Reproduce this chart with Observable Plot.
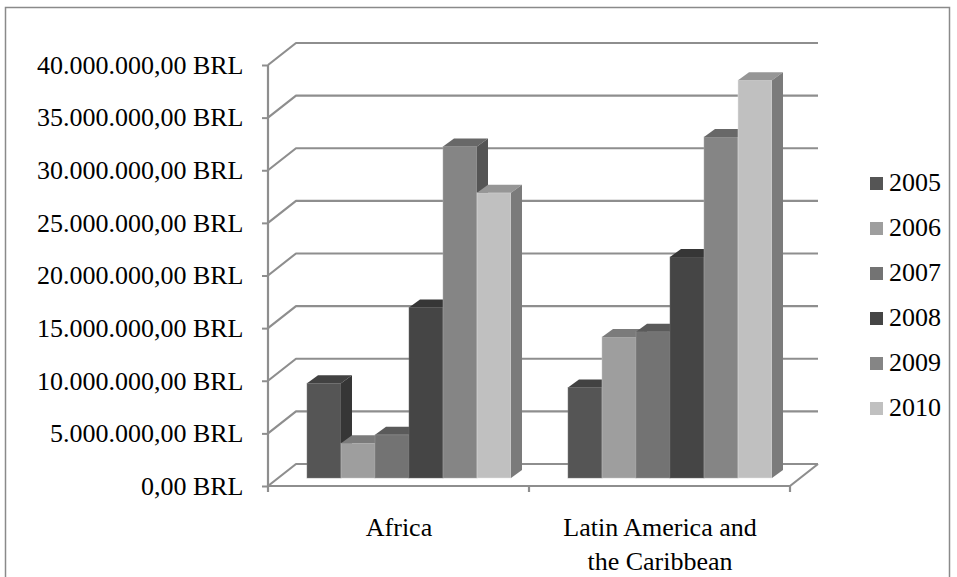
<!DOCTYPE html>
<html><head><meta charset="utf-8">
<script src="https://cdn.jsdelivr.net/npm/d3@7"></script>
<script src="https://cdn.jsdelivr.net/npm/@observablehq/plot@0.6"></script>
<style>
html,body{margin:0;padding:0;background:#fff;}
#wrap{position:relative;width:957px;height:577px;overflow:hidden;font-family:"Liberation Serif","Times New Roman",serif;}
#chart{position:absolute;left:0;top:0;}
.item{position:absolute;left:870px;display:flex;align-items:center;white-space:nowrap;font-size:26px;line-height:26px;height:26px;color:#000;}
.sw{width:13px;height:13px;margin-right:6px;flex:none;}
</style></head><body>
<div id="wrap"><div id="chart"></div><div id="legend"></div></div>
<script>
const regions = ["Africa", "Latin America and the Caribbean"];
const regionLabels = ["Africa", "Latin America and\nthe Caribbean"];
const years = ["2005", "2006", "2007", "2008", "2009", "2010"];
const africaValues = [9.0e6, 3.3e6, 4.1e6, 16.2e6, 31.5e6, 27.1e6];
const latinAmericaValues = [8.6e6, 13.4e6, 13.9e6, 21.0e6, 32.4e6, 37.8e6];
const yTicks = [0, 5e6, 10e6, 15e6, 20e6, 25e6, 30e6, 35e6, 40e6];
const yearColors = ["#555555", "#9e9e9e", "#737373", "#454545", "#858585", "#c0c0c0"];

const seriesByRegion = [africaValues, latinAmericaValues];
const data = [];
regions.forEach((r, i) => years.forEach((yr, j) => data.push({region: r, year: yr, value: seriesByRegion[i][j]})));

const loc = d3.formatLocale({decimal: ",", thousands: ".", grouping: [3], currency: ["", ""]});
const num = loc.format(",.2f");
const fmt = v => num(v) + " BRL";

const GRID = "#8e8e8e";
const chart = Plot.plot({
  width: 957, height: 577,
  marginLeft: 268, marginRight: 167, marginTop: 65, marginBottom: 91,
  style: {fontFamily: '"Liberation Serif", "Times New Roman", serif', fontSize: "26px", color: "#000", background: "transparent", overflow: "visible"},
  fx: {domain: regions, padding: 0, label: null},
  x: {domain: years, paddingInner: 0, paddingOuter: 0.73, axis: null},
  y: {domain: [0, 40e6], axis: null},
  color: {domain: years, range: yearColors},
  marks: [
    Plot.axisY({ticks: yTicks, tickFormat: fmt, tickSize: 6, tickPadding: 19, fontSize: 26, stroke: GRID, strokeWidth: 2, fill: "#000", label: null}),
    Plot.axisFx({anchor: "bottom", tickSize: 0, tickPadding: 26, tickFormat: d => regionLabels[regions.indexOf(d)], fontSize: 26, lineHeight: 1.3, fill: "#000", label: null}),
    Plot.barY(data, {fx: "region", x: "year", y: "value", fill: "year", dx: 10, dy: -8})
  ]
});
document.getElementById("chart").append(chart);

const svg = chart.tagName.toLowerCase() === "svg" ? chart : chart.querySelector("svg");
const Y = chart.scale("y");
const FX = chart.scale("fx");
const yFn = v => Y.apply(v);
const left = Math.min(...FX.range), right = Math.max(...FX.range);
const DX = 28, DY = -22;

// 3D faces for bars (collect rects drawn by the bar mark before adding anything else)
const barRects = Array.from(svg.querySelectorAll("rect")).filter(r => r.getAttribute("fill") && r.getAttribute("height"));
const mul = (c, k) => d3.rgb(c.r * k, c.g * k, c.b * k).formatHex();
const BD = 11, BDY = -8;
const ns = "http://www.w3.org/2000/svg";
barRects.forEach(rect => {
  const x = +rect.getAttribute("x"), y = +rect.getAttribute("y");
  const w = +rect.getAttribute("width"), h = +rect.getAttribute("height");
  const c = d3.rgb(rect.getAttribute("fill"));
  const top = document.createElementNS(ns, "polygon");
  top.setAttribute("points", `${x},${y} ${x + w},${y} ${x + w + BD},${y + BDY} ${x + BD},${y + BDY}`);
  top.setAttribute("fill", mul(c, 0.78));
  const side = document.createElementNS(ns, "polygon");
  side.setAttribute("points", `${x + w},${y} ${x + w + BD},${y + BDY} ${x + w + BD},${y + h + BDY} ${x + w},${y + h}`);
  side.setAttribute("fill", mul(c, 0.64));
  rect.setAttribute("stroke", d3.rgb(Math.min(255, c.r + 40), Math.min(255, c.g + 40), Math.min(255, c.b + 40)).formatHex());
  rect.setAttribute("stroke-width", 0.8);
  rect.setAttribute("stroke-opacity", 0.6);
  rect.parentNode.insertBefore(side, rect.nextSibling);
  rect.parentNode.insertBefore(top, rect.nextSibling);
});

// walls, floor, gridlines (behind bars)
const walls = d3.create("svg:g").attr("fill", "none").attr("stroke", GRID).attr("stroke-width", 2.2).attr("stroke-linejoin", "round");
yTicks.forEach(t => {
  const y = yFn(t);
  walls.append("path").attr("d", `M${left},${y}L${left + DX},${y + DY}H${right + DX}`);
});
const y0 = yFn(0);
walls.append("line").attr("x1", left).attr("x2", left).attr("y1", y0).attr("y2", yFn(40e6));
walls.append("path").attr("d", `M${left},${y0}H${right}L${right + DX},${y0 + DY}`);
[...regions.map(r => FX.apply(r)), right].forEach(x => {
  walls.append("line").attr("x1", x).attr("x2", x).attr("y1", y0).attr("y2", y0 + 6);
});
svg.insertBefore(walls.node(), svg.querySelector("g"));

// outer border
d3.select(svg).append("rect").attr("x", 5.5).attr("y", 7.5).attr("width", 944).attr("height", 620)
  .attr("fill", "none").attr("stroke", "#8a8a8a").attr("stroke-width", 1.5);

// legend
const legend = document.getElementById("legend");
years.forEach((yr, i) => {
  const item = document.createElement("div");
  item.className = "item";
  item.style.top = (183 + i * 45 - 13) + "px";
  const sw = document.createElement("span");
  sw.className = "sw";
  sw.style.background = yearColors[i];
  const tx = document.createElement("span");
  tx.textContent = yr;
  item.append(sw, tx);
  legend.append(item);
});
</script>
</body></html>
